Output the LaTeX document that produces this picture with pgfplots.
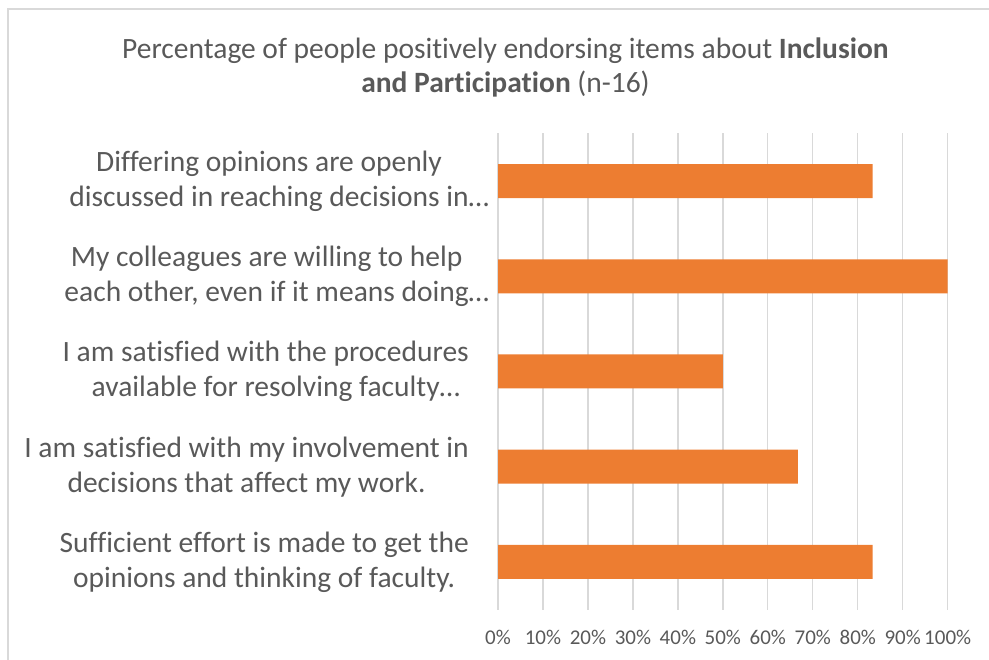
\documentclass[border=0pt]{standalone}
\usepackage{fontspec}
\setmainfont{Carlito}[Ligatures=CommonOff]
\usepackage{pgfplots}
\pgfplotsset{compat=1.18}
\definecolor{barorange}{HTML}{ED7D31}
\definecolor{txtgray}{HTML}{595959}
\definecolor{gridgray}{HTML}{D9D9D9}
\begin{document}
\begin{tikzpicture}
\path[use as bounding box] (0,0) rectangle (989bp,660bp);
\draw[gridgray, line width=1.5bp] (8bp,0) -- (8bp,651bp) -- (989bp,651bp);
\begin{axis}[
  at={(498bp,50.4bp)}, anchor=south west,
  scale only axis, width=449.7bp, height=476.2bp,
  xmin=0, xmax=100, ymin=-0.5, ymax=4.5,
  xbar, bar width=34bp,
  axis line style={draw=none},
  major tick length=0pt,
  xmajorgrids, grid style={gridgray, line width=1.3bp},
  xtick={0,10,...,100},
  xticklabels={0\%,10\%,20\%,30\%,40\%,50\%,60\%,70\%,80\%,90\%,100\%},
  xticklabel style={font=\fontsize{21bp}{24bp}\selectfont, text=txtgray, anchor=center, yshift=-28bp},
  ytick={0,1,2,3,4},
  yticklabels={
    {Sufficient effort is made to get the\\opinions and thinking of faculty.},
    {I am satisfied with my involvement in\\decisions that affect my work.},
    {I am satisfied with the procedures\\available for resolving faculty\rlap{…}},
    {My colleagues are willing to help\\each other, even if it means doing\rlap{…}},
    {Differing opinions are openly\\discussed in reaching decisions in\rlap{…}}},
  yticklabel style={font=\fontsize{29.5bp}{35bp}\selectfont, text=txtgray, align=center, anchor=east, inner sep=0pt, xshift=-29bp},
]
\addplot[fill=barorange, draw=none] coordinates {(83.3,0) (66.7,1) (50,2) (100,3) (83.3,4)};
\end{axis}
\node[text=txtgray, anchor=base, inner sep=0pt, font=\fontsize{29.5bp}{35bp}\selectfont] at (505.5bp,601.7bp)
  {Percentage of people positively endorsing items about \textbf{Inclusion}};
\node[text=txtgray, anchor=base, inner sep=0pt, font=\fontsize{29.5bp}{35bp}\selectfont] at (505.5bp,567.3bp)
  {\textbf{and Participation} (n-16)};
\end{tikzpicture}
\end{document}
